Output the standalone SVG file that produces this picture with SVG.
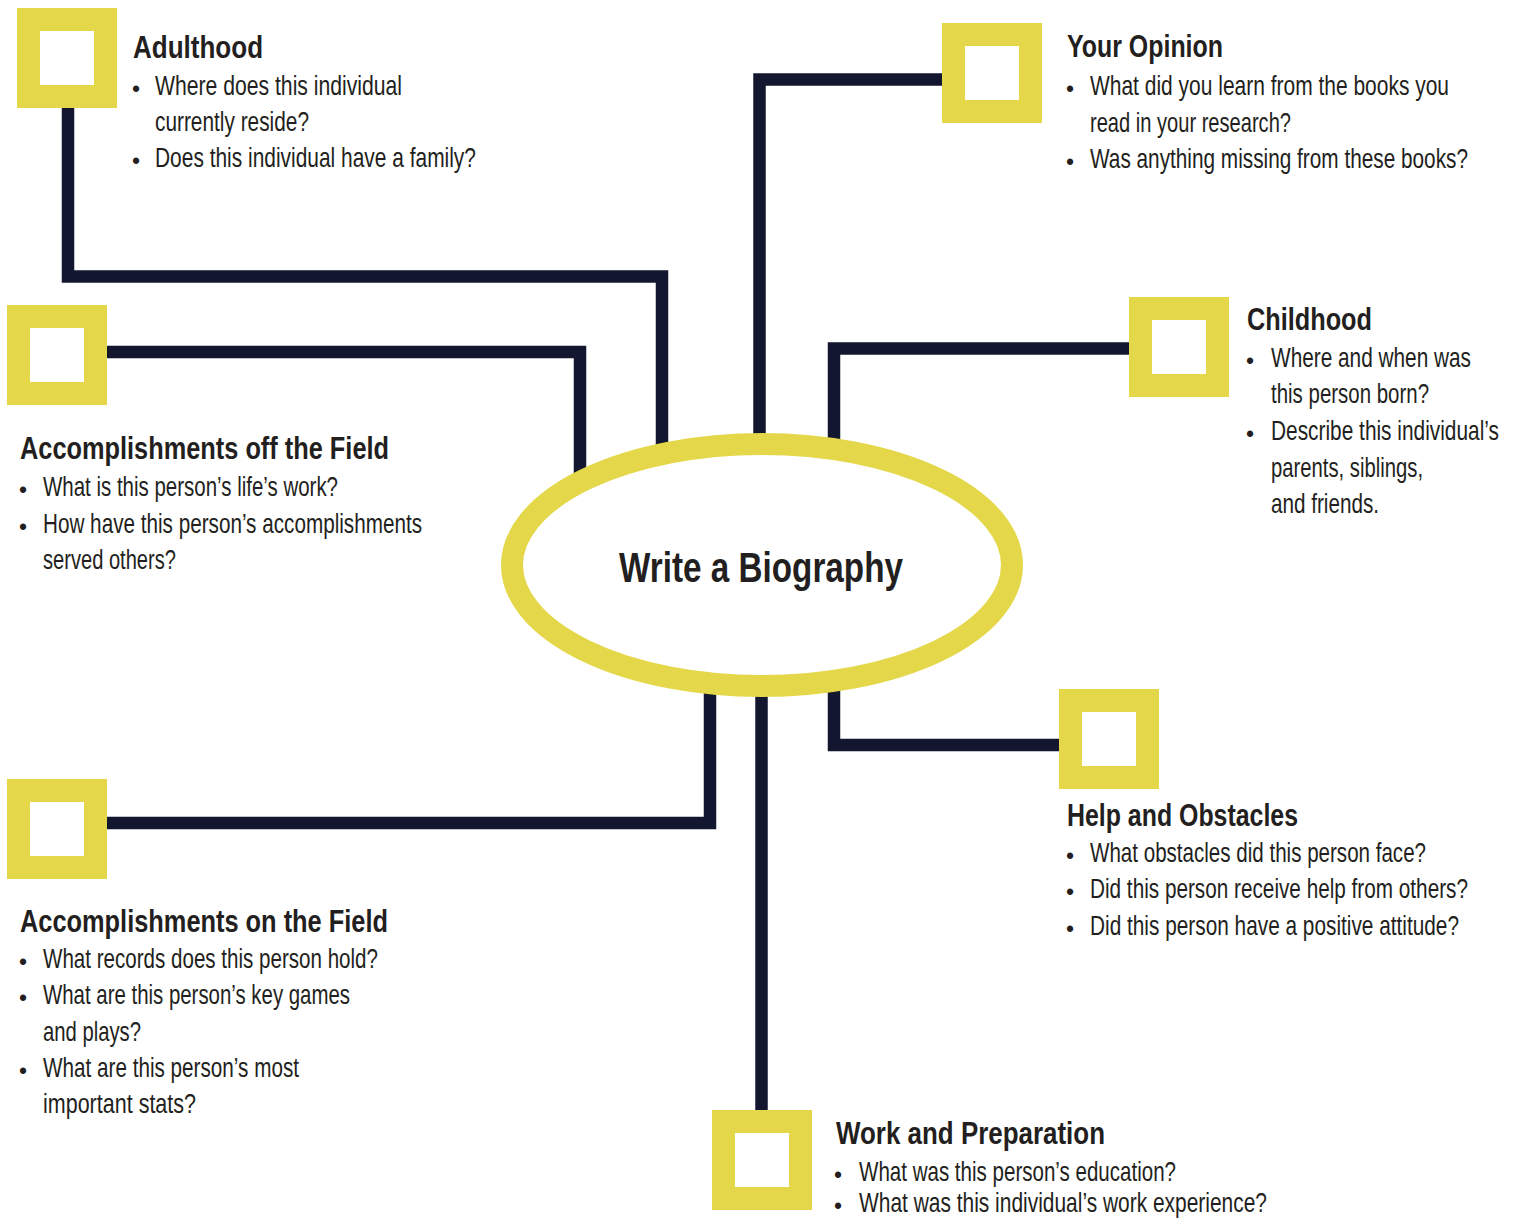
<svg xmlns="http://www.w3.org/2000/svg" width="1513" height="1220" viewBox="0 0 1513 1220">
<style>
.bg{fill:#ffffff}
.sq{fill:#ffffff;stroke:#E4D84A;stroke-width:23}
.ell{fill:#ffffff;stroke:#E4D84A;stroke-width:22}
.con{fill:none;stroke:#12172F;stroke-width:12.5;stroke-linejoin:miter;stroke-linecap:butt}
text{font-family:"Liberation Sans",Arial,sans-serif;fill:#231F20}
.t{font-size:32px;font-weight:bold}
.b{font-size:27.5px}
.d{font-size:23px}
.c{font-size:42px;font-weight:bold}
</style>
<rect class="bg" x="0" y="0" width="1513" height="1220"/>
<g id="connectors">
<path class="con" d="M68,108 V276.5 H662 V500"/>
<path class="con" d="M942,79.5 H759.5 V500"/>
<path class="con" d="M1129,348.5 H834 V500"/>
<path class="con" d="M107,352 H580 V500"/>
<path class="con" d="M1059,745 H834 V640"/>
<path class="con" d="M107,823 H710 V640"/>
<path class="con" d="M761.5,1110 V640"/>
</g>
<g id="center">
<ellipse class="ell" cx="762" cy="565" rx="250" ry="121"/>
<text class="c" transform="translate(619,582) scale(0.78,1)" textLength="364.1" lengthAdjust="spacingAndGlyphs">Write a Biography</text>
</g>
<g id="adulthood">
<rect class="sq" x="28.5" y="19.5" width="77" height="77"/>
<text class="t" transform="translate(133,58) scale(0.78,1)" textLength="166.7" lengthAdjust="spacingAndGlyphs">Adulthood</text>
<text class="d" x="132" y="97">•</text>
<text class="b" transform="translate(155,95) scale(0.78,1)" textLength="316.7" lengthAdjust="spacingAndGlyphs">Where does this individual</text>
<text class="b" transform="translate(155,131) scale(0.78,1)" textLength="197.4" lengthAdjust="spacingAndGlyphs">currently reside?</text>
<text class="d" x="132" y="169">•</text>
<text class="b" transform="translate(155,167) scale(0.78,1)" textLength="411.5" lengthAdjust="spacingAndGlyphs">Does this individual have a family?</text>
</g>
<g id="your-opinion">
<rect class="sq" x="953.5" y="34.5" width="77" height="77"/>
<text class="t" transform="translate(1067,57) scale(0.78,1)" textLength="200" lengthAdjust="spacingAndGlyphs">Your Opinion</text>
<text class="d" x="1066" y="97">•</text>
<text class="b" transform="translate(1090,95) scale(0.78,1)" textLength="460.3" lengthAdjust="spacingAndGlyphs">What did you learn from the books you</text>
<text class="b" transform="translate(1090,131.5) scale(0.78,1)" textLength="257.7" lengthAdjust="spacingAndGlyphs">read in your research?</text>
<text class="d" x="1066" y="170">•</text>
<text class="b" transform="translate(1090,168) scale(0.78,1)" textLength="484.6" lengthAdjust="spacingAndGlyphs">Was anything missing from these books?</text>
</g>
<g id="childhood">
<rect class="sq" x="1140.5" y="308.5" width="77" height="77"/>
<text class="t" transform="translate(1247,330) scale(0.78,1)" textLength="160.3" lengthAdjust="spacingAndGlyphs">Childhood</text>
<text class="d" x="1246" y="369">•</text>
<text class="b" transform="translate(1271,367) scale(0.78,1)" textLength="256.4" lengthAdjust="spacingAndGlyphs">Where and when was</text>
<text class="b" transform="translate(1271,403) scale(0.78,1)" textLength="202.6" lengthAdjust="spacingAndGlyphs">this person born?</text>
<text class="d" x="1246" y="442">•</text>
<text class="b" transform="translate(1271,440) scale(0.78,1)" textLength="292.3" lengthAdjust="spacingAndGlyphs">Describe this individual’s</text>
<text class="b" transform="translate(1271,477) scale(0.78,1)" textLength="194.9" lengthAdjust="spacingAndGlyphs">parents, siblings,</text>
<text class="b" transform="translate(1271,513) scale(0.78,1)" textLength="138.5" lengthAdjust="spacingAndGlyphs">and friends.</text>
</g>
<g id="accomplishments-off">
<rect class="sq" x="18.5" y="316.5" width="77" height="77"/>
<text class="t" transform="translate(20,459) scale(0.78,1)" textLength="473.1" lengthAdjust="spacingAndGlyphs">Accomplishments off the Field</text>
<text class="d" x="19" y="498">•</text>
<text class="b" transform="translate(43,496) scale(0.78,1)" textLength="378.2" lengthAdjust="spacingAndGlyphs">What is this person’s life’s work?</text>
<text class="d" x="19" y="535">•</text>
<text class="b" transform="translate(43,533) scale(0.78,1)" textLength="485.9" lengthAdjust="spacingAndGlyphs">How have this person’s accomplishments</text>
<text class="b" transform="translate(43,569) scale(0.78,1)" textLength="170.5" lengthAdjust="spacingAndGlyphs">served others?</text>
</g>
<g id="help-obstacles">
<rect class="sq" x="1070.5" y="700.5" width="77" height="77"/>
<text class="t" transform="translate(1067,826) scale(0.78,1)" textLength="296.2" lengthAdjust="spacingAndGlyphs">Help and Obstacles</text>
<text class="d" x="1066" y="864">•</text>
<text class="b" transform="translate(1090,862) scale(0.78,1)" textLength="430.8" lengthAdjust="spacingAndGlyphs">What obstacles did this person face?</text>
<text class="d" x="1066" y="900">•</text>
<text class="b" transform="translate(1090,898) scale(0.78,1)" textLength="484.6" lengthAdjust="spacingAndGlyphs">Did this person receive help from others?</text>
<text class="d" x="1066" y="937">•</text>
<text class="b" transform="translate(1090,935) scale(0.78,1)" textLength="473.1" lengthAdjust="spacingAndGlyphs">Did this person have a positive attitude?</text>
</g>
<g id="accomplishments-on">
<rect class="sq" x="18.5" y="790.5" width="77" height="77"/>
<text class="t" transform="translate(20,932) scale(0.78,1)" textLength="471.8" lengthAdjust="spacingAndGlyphs">Accomplishments on the Field</text>
<text class="d" x="19" y="970">•</text>
<text class="b" transform="translate(43,968) scale(0.78,1)" textLength="429.5" lengthAdjust="spacingAndGlyphs">What records does this person hold?</text>
<text class="d" x="19" y="1006">•</text>
<text class="b" transform="translate(43,1004) scale(0.78,1)" textLength="393.6" lengthAdjust="spacingAndGlyphs">What are this person’s key games</text>
<text class="b" transform="translate(43,1041) scale(0.78,1)" textLength="125.6" lengthAdjust="spacingAndGlyphs">and plays?</text>
<text class="d" x="19" y="1079">•</text>
<text class="b" transform="translate(43,1077) scale(0.78,1)" textLength="328.2" lengthAdjust="spacingAndGlyphs">What are this person’s most</text>
<text class="b" transform="translate(43,1113) scale(0.78,1)" textLength="196.2" lengthAdjust="spacingAndGlyphs">important stats?</text>
</g>
<g id="work-preparation">
<rect class="sq" x="723.5" y="1121.5" width="77" height="77"/>
<text class="t" transform="translate(836,1144) scale(0.78,1)" textLength="344.9" lengthAdjust="spacingAndGlyphs">Work and Preparation</text>
<text class="d" x="834" y="1183">•</text>
<text class="b" transform="translate(859,1181) scale(0.78,1)" textLength="406.4" lengthAdjust="spacingAndGlyphs">What was this person’s education?</text>
<text class="d" x="834" y="1214">•</text>
<text class="b" transform="translate(859,1212) scale(0.78,1)" textLength="523.1" lengthAdjust="spacingAndGlyphs">What was this individual’s work experience?</text>
</g>
</svg>
